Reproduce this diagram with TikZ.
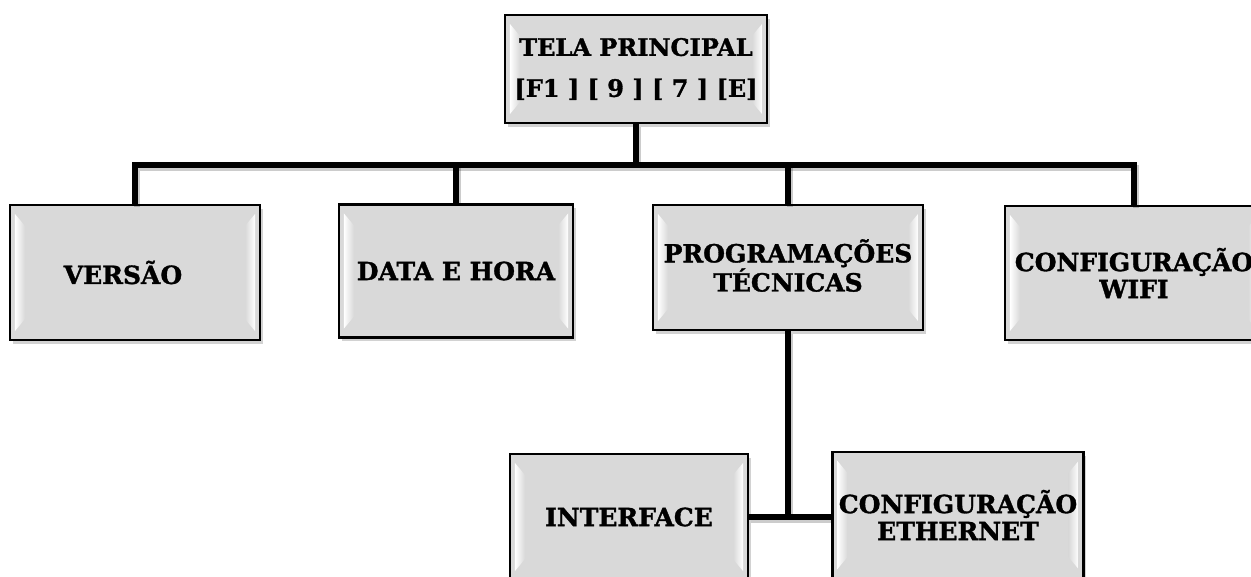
\documentclass[tikz,border=0pt]{standalone}
\usepackage{fontspec}
\setmainfont{DejaVu Serif}
\newfontfamily\heavyfont{DejaVu Serif}[BoldFeatures={FakeBold=1.3}]
\usetikzlibrary{shadows,calc}
\definecolor{boxgray}{HTML}{D9D9D9}
\tikzset{
  box/.style={draw=black, line width=2.2pt, fill=boxgray,
    drop shadow={shadow xshift=2.5pt, shadow yshift=-3.5pt, opacity=0.35},
    inner sep=0pt},
  label/.style={inner sep=0pt, align=center, text=black,
    font=\heavyfont\bfseries\fontsize{25}{27}\selectfont},
  toplabel/.style={label, font=\heavyfont\bfseries\fontsize{24}{41}\selectfont},
  conn/.style={line width=5.5pt, line join=miter, draw=black},
  connshadow/.style={line width=6pt, line join=miter, draw=black, opacity=0.2},
}
\newcommand\bevelbox[1]{%
  \shade[left color=white, right color=boxgray]
    ($(#1.north west)+(6,10)$) -- ($(#1.north west)+(16,22)$) --
    ($(#1.south west)+(16,-22)$) -- ($(#1.south west)+(6,-10)$) -- cycle;
  \shade[left color=boxgray, right color=white]
    ($(#1.north east)+(-6,10)$) -- ($(#1.north east)+(-16,22)$) --
    ($(#1.south east)+(-16,-22)$) -- ($(#1.south east)+(-6,-10)$) -- cycle;
}
\begin{document}
\begin{tikzpicture}[x=1pt, y=-1pt]
  \useasboundingbox (0,0) rectangle (1251,576);
  \clip (0,0) rectangle (1251,576);
  \fill[white] (0,0) rectangle (1251,576);

  % nodes
  \node[box, minimum width=262pt, minimum height=108pt] (top) at (636,69) {};
  \node[box, minimum width=250pt, minimum height=135pt] (versao) at (135,272.5) {};
  \node[box, minimum width=234pt, minimum height=133pt] (data) at (456,271) {};
  \node[box, minimum width=270pt, minimum height=125pt] (prog) at (788,267.5) {};
  \node[box, minimum width=258pt, minimum height=134pt] (wifi) at (1134,273) {};
  \node[box, minimum width=238pt, minimum height=126pt] (interface) at (629,517) {};
  \node[box, minimum width=251pt, minimum height=126pt] (ethernet) at (958,515) {};

  \foreach \n in {top,versao,data,prog,wifi,interface,ethernet} {\bevelbox{\n}}

  % texts
  \node[toplabel] (ttop) at (top) {TELA PRINCIPAL\\{}[F1 ] [ 9 ] [ 7 ] [E]};
  \node[label] (tversao) at ($(versao)+(-12,0)$) {VERSÃO};
  \node[label] (tdata) at (data) {DATA E HORA};
  \node[label] (tprog) at ($(prog)+(0,-2)$) {PROGRAMAÇÕES\\TÉCNICAS};
  \node[label] (twifi) at (wifi) {CONFIGURAÇÃO\\WIFI};
  \node[label] (tinterface) at (interface) {INTERFACE};
  \node[label] (tethernet) at (ethernet) {CONFIGURAÇÃO\\ETHERNET};

  % connectors
  \coordinate (bus) at (636,165);
  \begin{scope}[transform canvas={xshift=2pt, yshift=-3pt}]
    \draw[connshadow] (top.south) -- (top.south |- bus);
    \draw[connshadow] (versao.north) -- (versao.north |- bus) -- (wifi.north |- bus) -- (wifi.north);
    \draw[connshadow] (data.north) -- (data.north |- bus);
    \draw[connshadow] (prog.north) -- (prog.north |- bus);
    \draw[connshadow] (prog.south) -- (prog.south |- interface.east);
    \draw[connshadow] (interface.east) -- (interface.east -| ethernet.west);
  \end{scope}
  \draw[conn] (top.south) -- (top.south |- bus);
  \draw[conn] (versao.north) -- (versao.north |- bus) -- (wifi.north |- bus) -- (wifi.north);
  \draw[conn] (data.north) -- (data.north |- bus);
  \draw[conn] (prog.north) -- (prog.north |- bus);
  \draw[conn] (prog.south) -- (prog.south |- interface.east);
  \draw[conn] (interface.east) -- (interface.east -| ethernet.west);
\end{tikzpicture}
\end{document}
